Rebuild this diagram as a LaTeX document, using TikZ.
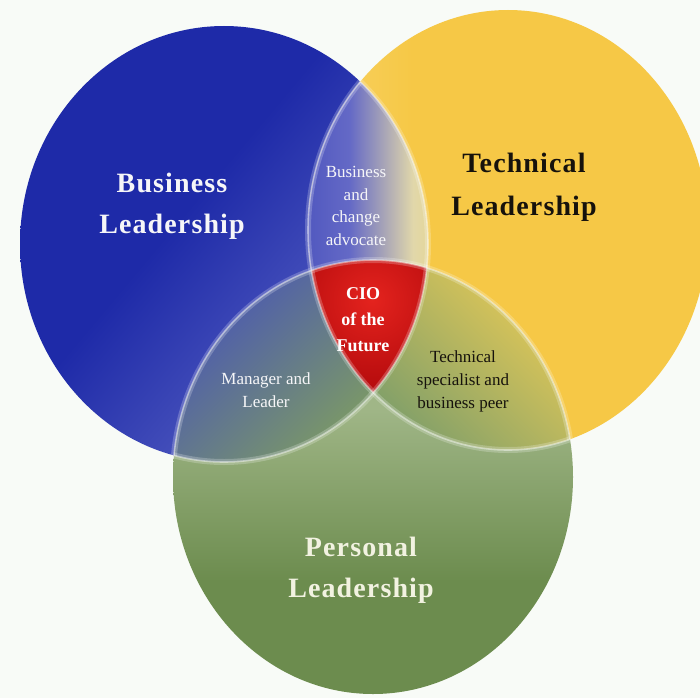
\documentclass[tikz,border=0pt]{standalone}
\usepackage{fontspec}
\setmainfont{Liberation Serif}
\newfontfamily\bigfont[LetterSpace=4]{Liberation Serif}
\definecolor{bgc}{RGB}{248,251,247}
\definecolor{bD}{RGB}{30,42,168}
\definecolor{bL}{RGB}{150,158,225}
\definecolor{yD}{RGB}{246,200,70}
\definecolor{yL}{RGB}{251,232,165}
\definecolor{gD}{RGB}{108,140,78}
\definecolor{gL}{RGB}{160,182,135}
\definecolor{by1}{RGB}{55,65,182}
\definecolor{by2}{RGB}{100,105,198}
\definecolor{by3}{RGB}{225,215,170}
\definecolor{by4}{RGB}{243,212,95}
\definecolor{bgA}{RGB}{70,82,185}
\definecolor{bgM}{RGB}{110,125,160}
\definecolor{bgB}{RGB}{125,155,100}
\definecolor{ygA}{RGB}{238,205,85}
\definecolor{ygM}{RGB}{180,182,112}
\definecolor{ygB}{RGB}{130,160,105}
\definecolor{rIn}{RGB}{228,35,30}
\definecolor{rOut}{RGB}{160,0,5}
\definecolor{txtw}{RGB}{246,246,248}
\definecolor{txtc}{RGB}{242,242,225}
\definecolor{txtk}{RGB}{22,18,12}
\pgfdeclarehorizontalshading{blueLin}{100bp}{color(0bp)=(bD); color(44bp)=(bD); color(100bp)=(bL)}
\pgfdeclarehorizontalshading{yelLin}{100bp}{color(0bp)=(yL); color(38bp)=(yD); color(100bp)=(yD)}
\pgfdeclareverticalshading{greenSh}{100bp}{color(0bp)=(gD); color(38bp)=(gD); color(58bp)=(gL); color(100bp)=(gL)}
\pgfdeclarehorizontalshading{bySh}{100bp}{color(0bp)=(by1); color(42bp)=(by2); color(68bp)=(by3); color(100bp)=(by4)}
\tikzset{
  blueE/.style={insert path={(224,244) ellipse [x radius=204, y radius=218]}},
  yellowE/.style={insert path={(508,230) ellipse [x radius=200, y radius=220]}},
  greenE/.style={insert path={(373,477) ellipse [x radius=200, y radius=217]}},
  glowA/.style={draw=white, draw opacity=0.22, line width=6pt},
  glowB/.style={draw=white, draw opacity=0.45, line width=1.6pt},
  bigw/.style={font=\bigfont\bfseries\fontsize{28}{41}\selectfont, text=txtw, align=center, inner sep=0pt},
  bigk/.style={font=\bigfont\bfseries\fontsize{28}{43}\selectfont, text=txtk, align=center, inner sep=0pt},
  bigc/.style={font=\bigfont\bfseries\fontsize{28}{41}\selectfont, text=txtc, align=center, inner sep=0pt},
  smallw/.style={font=\fontsize{17}{22.5}\selectfont, text=txtw, align=center, inner sep=0pt},
  smallk/.style={font=\fontsize{17}{23}\selectfont, text=txtk, align=center, inner sep=0pt},
  cio/.style={font=\bfseries\fontsize{18}{26}\selectfont, text=white, align=center, inner sep=0pt}
}
\begin{document}
\begin{tikzpicture}[x=1pt,y=-1pt]
\fill[bgc] (0,0) rectangle (700,698);
\useasboundingbox (0,0) rectangle (700,698);
% blue
\begin{scope}
  \clip[blueE];
  \shade[shading=blueLin, shading angle=-40] (20,26) rectangle (428,462);
\end{scope}
% yellow
\begin{scope}
  \clip[yellowE];
  \shade[shading=yelLin] (308,10) rectangle (708,450);
\end{scope}
% green
\begin{scope}
  \clip[greenE];
  \shade[shading=greenSh] (170,260) rectangle (576,694);
\end{scope}
% blue & yellow
\begin{scope}
  \clip[blueE]; \clip[yellowE];
  \shade[shading=bySh] (308,0) rectangle (430,300);
\end{scope}
% blue & green
\begin{scope}
  \clip[blueE]; \clip[greenE];
  \shade[top color=bgA, middle color=bgM, bottom color=bgB, shading angle=45] (170,255) rectangle (378,470);
\end{scope}
% yellow & green
\begin{scope}
  \clip[yellowE]; \clip[greenE];
  \shade[top color=ygA, middle color=ygM, bottom color=ygB, shading angle=-45] (368,255) rectangle (580,450);
\end{scope}
% red centre
\begin{scope}
  \clip[blueE]; \clip[yellowE]; \clip[greenE];
  \shade[inner color=rIn, outer color=rOut] (372,300) circle (130);
\end{scope}
% glows
\begin{scope}
  \clip[yellowE, greenE];
  \path[glowA, blueE]; \path[glowB, blueE];
\end{scope}
\begin{scope}
  \clip[blueE, greenE];
  \path[glowA, yellowE]; \path[glowB, yellowE];
\end{scope}
\begin{scope}
  \clip[blueE, yellowE];
  \path[glowA, greenE]; \path[glowB, greenE];
\end{scope}
% labels
\node[bigw] (bl) at (172,206) {Business\\Leadership};
\node[bigk] (tl) at (524,187) {Technical\\Leadership};
\node[bigc] (pl) at (361,570) {Personal\\Leadership};
\node[smallw] (bca) at (356,206) {Business\\and\\change\\advocate};
\node[cio] (cf) at (363,320) {CIO\\of the\\Future};
\node[smallw] (ml) at (266,390) {Manager and\\Leader};
\node[smallk] (ts) at (463,381) {Technical\\specialist and\\business peer};
\end{tikzpicture}
\end{document}
